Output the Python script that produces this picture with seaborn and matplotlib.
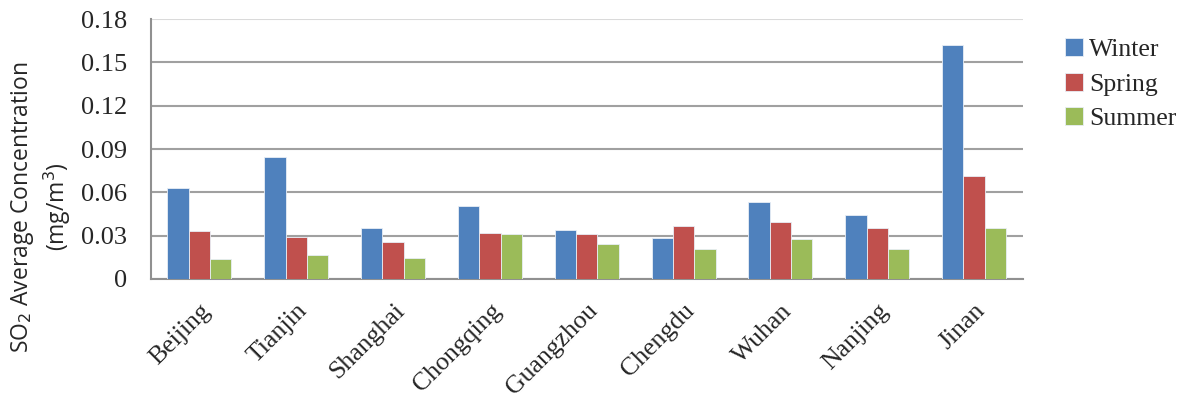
import numpy as np
import pandas as pd
import matplotlib
matplotlib.use("Agg")
import matplotlib.pyplot as plt
from matplotlib.ticker import FixedLocator
import seaborn as sns

cities = ['Beijing', 'Tianjin', 'Shanghai', 'Chongqing', 'Guangzhou',
          'Chengdu', 'Wuhan', 'Nanjing', 'Jinan']
winter = [0.0628, 0.0842, 0.0355, 0.0507, 0.0339, 0.0284, 0.0531, 0.0445, 0.162]
spring = [0.0334, 0.0293, 0.0256, 0.0320, 0.0314, 0.0365, 0.0394, 0.0353, 0.0711]
summer = [0.0138, 0.0164, 0.0145, 0.0311, 0.0242, 0.0208, 0.0279, 0.0210, 0.0351]
seasons = ['Winter', 'Spring', 'Summer']
colors = ['#4F81BD', '#C0504D', '#9BBB59']
yticks = [0, 0.03, 0.06, 0.09, 0.12, 0.15, 0.18]

df = pd.DataFrame({'City': cities, 'Winter': winter, 'Spring': spring, 'Summer': summer})
long_df = df.melt(id_vars='City', var_name='Season', value_name='SO2')

sns.set_style("white")
fig = plt.figure(figsize=(11.89, 3.99), dpi=100)
ax = fig.add_axes([0.127, 0.301, 0.733, 0.651])

sns.barplot(data=long_df, x='City', y='SO2', hue='Season', hue_order=seasons,
            palette=colors, saturation=1, width=0.66, gap=0, ax=ax,
            edgecolor='#E8EEF6', linewidth=0.6, legend=True, zorder=3)

serif = 'Liberation Serif'
ax.set_ylim(0, 0.18)
ax.set_xlim(-0.5, len(cities) - 0.5)
ax.set_yticks(yticks)
ax.set_yticklabels(['0' if v == 0 else f'{v:.2f}' for v in yticks],
                   fontfamily=serif, fontsize=19)
ax.yaxis.grid(True, color='#A0A0A0', linewidth=1.5, zorder=0)
ax.set_axisbelow(True)
# the top gridline is drawn lighter in the original
ax.get_ygridlines()[-1].set_color('#DADADA')

# x ticks: labels at centres, tick marks at category boundaries
ax.set_xticks(range(len(cities)))
ax.set_xticklabels(cities, rotation=45, ha='right', rotation_mode='anchor',
                   fontfamily=serif, fontsize=18.5)
ax.tick_params(axis='x', which='major', length=0, pad=15)
ax.xaxis.set_minor_locator(FixedLocator(np.arange(-0.5, len(cities), 1)))
ax.tick_params(axis='x', which='minor', length=6, color='#909090', width=1.5,
               direction='out')
ax.tick_params(axis='y', length=6, color='#909090', width=1.5, direction='out', pad=11)

for side in ['top', 'right']:
    ax.spines[side].set_visible(False)
for side in ['left', 'bottom']:
    ax.spines[side].set_color('#909090')
    ax.spines[side].set_linewidth(1.5)

ax.set_xlabel('')
ax.set_ylabel('SO$_2$ Average Concentration\n(mg/m$^3$)', fontfamily='Open Sans',
              fontsize=16.5, linespacing=1.25)
ax.yaxis.set_label_coords(-0.089, 0.277)

leg = ax.legend(loc='upper left', bbox_to_anchor=(1.022, 1.015), frameon=False,
                prop={'family': serif, 'size': 18.5}, handlelength=0.7,
                handleheight=0.7, handletextpad=0.25, labelspacing=0.45)

fig.savefig('out.png', dpi=100)
